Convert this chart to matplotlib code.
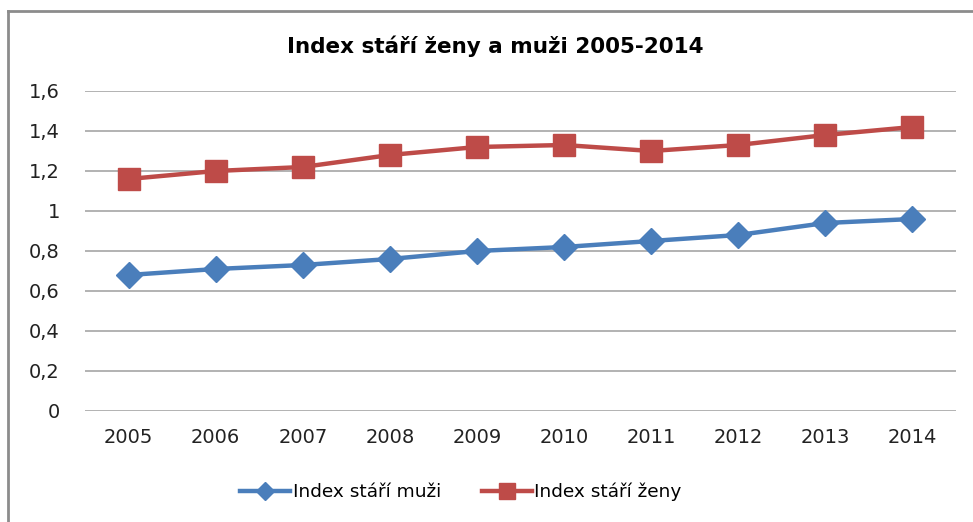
import numpy as np
import matplotlib
matplotlib.use("Agg")
import matplotlib.pyplot as plt
from matplotlib.lines import Line2D

# data
years = ["2005", "2006", "2007", "2008", "2009", "2010", "2011", "2012", "2013", "2014"]
muzi = [0.68, 0.71, 0.73, 0.76, 0.80, 0.82, 0.85, 0.88, 0.94, 0.96]
zeny = [1.16, 1.20, 1.22, 1.28, 1.32, 1.33, 1.30, 1.33, 1.38, 1.42]
yticks = [0, 0.2, 0.4, 0.6, 0.8, 1.0, 1.2, 1.4, 1.6]
ylabels = ["0", "0,2", "0,4", "0,6", "0,8", "1", "1,2", "1,4", "1,6"]

W, H = 973, 522
fig = plt.figure(figsize=(W / 100, H / 100), dpi=100)
ax = fig.add_axes([85 / W, 1 - 411 / H, (956 - 85) / W, (411 - 91) / H])

x = np.arange(len(years))
ax.plot(x, muzi, color="#4a7ebb", lw=3.2, marker="D", ms=13,
        label="Index stáří muži", zorder=3)
ax.plot(x, zeny, color="#be4b48", lw=3.2, marker="s", ms=15.5,
        label="Index stáří ženy", zorder=3)

ax.set_xlim(-0.5, len(years) - 0.5)
ax.set_ylim(0, 1.6)
ax.set_yticks(yticks)
ax.set_yticklabels(ylabels)
ax.set_xticks(x)
ax.set_xticklabels(years)
ax.tick_params(length=0, labelsize=14, colors="#222222")
ax.tick_params(axis="y", pad=18)
ax.tick_params(axis="x", pad=12)
for s in ax.spines.values():
    s.set_visible(False)
ax.grid(axis="y", color="#a6a6a6", lw=1.2)
ax.set_axisbelow(True)

fig.text(495 / W, 1 - 46 / H, "Index stáří ženy a muži 2005-2014",
         ha="center", va="center", fontsize=15.5, fontweight="bold")

fig.legend(loc="center", bbox_to_anchor=(461 / W, 1 - 492 / H), ncol=2,
           frameon=False, fontsize=13.3, handlelength=2.7, columnspacing=2.2,
           handletextpad=0.15, markerscale=0.7)

# chart border (top and left visible in the crop)
fig.add_artist(Line2D([8 / W, 8 / W], [0, 1 - 11 / H], color="#8c8c8c", lw=2))
fig.add_artist(Line2D([8 / W, 1], [1 - 11 / H, 1 - 11 / H], color="#8c8c8c", lw=2))

fig.savefig("out.png", dpi=100)
